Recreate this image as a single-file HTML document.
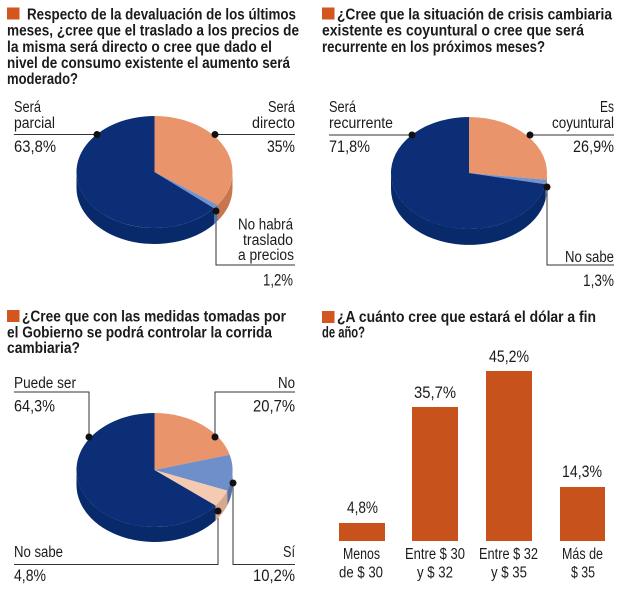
<!DOCTYPE html>
<html><head><meta charset="utf-8">
<style>
html,body{margin:0;padding:0;background:#fff;}
svg{display:block;}
text{font-family:"Liberation Sans",sans-serif;fill:#1b1b1b;}
.t{font-weight:bold;font-size:16px;}
.l{font-size:15.5px;}
.p{font-size:17px;}
</style></head>
<body>
<svg width="630" height="595" viewBox="0 0 630 595" xmlns="http://www.w3.org/2000/svg">
<rect width="630" height="595" fill="#fff"/>
<g stroke="#333" stroke-width="1" fill="none">
  <!-- panel 1 leaders -->
  <polyline points="14,134.5 97,134.5"/>
  <polyline points="215,134.5 295,134.5"/>
  <polyline points="216,211 216,265 295,265"/>
  <!-- panel 2 -->
  <polyline points="329,135 412,135"/>
  <polyline points="530,135 614,135"/>
  <polyline points="547,187 547,265 614,265"/>
  <!-- panel 3 -->
  <polyline points="14,392 89,392 89,437"/>
  <polyline points="295,392 215,392 215,437"/>
  <polyline points="14,564.5 218,564.5 218,511"/>
  <polyline points="233,483 233,564.5 295,564.5"/>
</g>

<!-- ===== Panel 1 ===== -->
<rect x="7" y="7.5" width="12.5" height="12" fill="#d2561e"/>
<text class="t" x="27" y="19.5" textLength="269" lengthAdjust="spacingAndGlyphs">Respecto de la devaluación de los últimos</text>
<text class="t" x="7" y="35.7" textLength="292" lengthAdjust="spacingAndGlyphs">meses, ¿cree que el traslado a los precios de</text>
<text class="t" x="7" y="52" textLength="265" lengthAdjust="spacingAndGlyphs">la misma será directo o cree que dado el</text>
<text class="t" x="7" y="68" textLength="283" lengthAdjust="spacingAndGlyphs">nivel de consumo existente el aumento será</text>
<text class="t" x="7" y="84" textLength="71" lengthAdjust="spacingAndGlyphs">moderado?</text>

<!-- pie 1 sides -->
<path d="M232.5,172 A78,56 0 0 1 217.6,204.9 L217.6,220.9 A78,56 0 0 0 232.5,188 Z" fill="#c8764e"/>
<path d="M217.6,204.9 A78,56 0 0 1 214,208.2 L214,224.2 A78,56 0 0 0 217.6,220.9 Z" fill="#5570a5"/>
<path d="M214,208.2 A78,56 0 0 1 76.5,172 L76.5,188 A78,56 0 0 0 214,224.2 Z" fill="#08296a"/>
<!-- pie 1 top -->
<path d="M154.5,172 L154.5,116 A78,56 0 0 1 217.6,204.9 Z" fill="#e9946a"/>
<path d="M154.5,172 L217.6,204.9 A78,56 0 0 1 214,208.2 Z" fill="#7393cc"/>
<path d="M154.5,172 L214,208.2 A78,56 0 1 1 154.5,116 Z" fill="#0b2e76"/>
<circle cx="97" cy="134.5" r="3.5" fill="#111"/>
<circle cx="215" cy="134.5" r="3.5" fill="#111"/>
<circle cx="216" cy="211" r="3.5" fill="#111"/>

<text class="l" x="14" y="112" textLength="27" lengthAdjust="spacingAndGlyphs">Será</text>
<text class="l" x="14" y="128" textLength="41" lengthAdjust="spacingAndGlyphs">parcial</text>
<text class="p" x="14" y="152" textLength="42" lengthAdjust="spacingAndGlyphs">63,8%</text>
<text class="l" x="268" y="112" textLength="27" lengthAdjust="spacingAndGlyphs">Será</text>
<text class="l" x="252" y="128" textLength="43" lengthAdjust="spacingAndGlyphs">directo</text>
<text class="p" x="267" y="152" textLength="28" lengthAdjust="spacingAndGlyphs">35%</text>
<text class="l" x="238" y="229.5" textLength="55" lengthAdjust="spacingAndGlyphs">No habrá</text>
<text class="l" x="243" y="245" textLength="50" lengthAdjust="spacingAndGlyphs">traslado</text>
<text class="l" x="238" y="260" textLength="56" lengthAdjust="spacingAndGlyphs">a precios</text>
<text class="p" x="263" y="285.5" textLength="30" lengthAdjust="spacingAndGlyphs">1,2%</text>

<!-- ===== Panel 2 ===== -->
<rect x="322" y="7.5" width="12.5" height="12" fill="#d2561e"/>
<text class="t" x="337" y="19.5" textLength="275" lengthAdjust="spacingAndGlyphs">¿Cree que la situación de crisis cambiaria</text>
<text class="t" x="322" y="35.7" textLength="262" lengthAdjust="spacingAndGlyphs">existente es coyuntural o cree que será</text>
<text class="t" x="322" y="52" textLength="223" lengthAdjust="spacingAndGlyphs">recurrente en los próximos meses?</text>

<path d="M547,173 A78,56 0 0 1 546.4,179.7 L546.4,195.7 A78,56 0 0 0 547,189 Z" fill="#c8764e"/>
<path d="M546.4,179.7 A78,56 0 0 1 545.4,184.2 L545.4,200.2 A78,56 0 0 0 546.4,195.7 Z" fill="#5570a5"/>
<path d="M545.4,184.2 A78,56 0 0 1 391,173 L391,189 A78,56 0 0 0 545.4,200.2 Z" fill="#08296a"/>
<path d="M469,173 L469,117 A78,56 0 0 1 546.4,179.7 Z" fill="#e9946a"/>
<path d="M469,173 L546.4,179.7 A78,56 0 0 1 545.4,184.2 Z" fill="#7393cc"/>
<path d="M469,173 L545.4,184.2 A78,56 0 1 1 469,117 Z" fill="#0b2e76"/>
<circle cx="412" cy="135" r="3.5" fill="#111"/>
<circle cx="530" cy="135" r="3.5" fill="#111"/>
<circle cx="547" cy="187" r="3.5" fill="#111"/>

<text class="l" x="329" y="112" textLength="27" lengthAdjust="spacingAndGlyphs">Será</text>
<text class="l" x="329" y="128" textLength="64" lengthAdjust="spacingAndGlyphs">recurrente</text>
<text class="p" x="329" y="152" textLength="41" lengthAdjust="spacingAndGlyphs">71,8%</text>
<text class="l" x="600" y="112" textLength="14" lengthAdjust="spacingAndGlyphs">Es</text>
<text class="l" x="552" y="128" textLength="62" lengthAdjust="spacingAndGlyphs">coyuntural</text>
<text class="p" x="573" y="152" textLength="41" lengthAdjust="spacingAndGlyphs">26,9%</text>
<text class="l" x="565" y="262" textLength="49" lengthAdjust="spacingAndGlyphs">No sabe</text>
<text class="p" x="583" y="286" textLength="31" lengthAdjust="spacingAndGlyphs">1,3%</text>

<!-- ===== Panel 3 ===== -->
<rect x="7" y="310" width="12.5" height="12" fill="#d2561e"/>
<text class="t" x="22" y="321.7" textLength="264" lengthAdjust="spacingAndGlyphs">¿Cree que con las medidas tomadas por</text>
<text class="t" x="7" y="337.5" textLength="265" lengthAdjust="spacingAndGlyphs">el Gobierno se podrá controlar la corrida</text>
<text class="t" x="7" y="353" textLength="73" lengthAdjust="spacingAndGlyphs">cambiaria?</text>

<path d="M232.5,470 A78,57 0 0 1 227.2,490.6 L227.2,505.6 A78,57 0 0 0 232.5,485 Z" fill="#5570a5"/>
<path d="M227.2,490.6 A78,57 0 0 1 215.5,505.5 L215.5,520.5 A78,57 0 0 0 227.2,505.6 Z" fill="#d8a88e"/>
<path d="M215.5,505.5 A78,57 0 0 1 76.5,470 L76.5,485 A78,57 0 0 0 215.5,520.5 Z" fill="#08296a"/>
<path d="M154.5,470 L154.5,413 A78,57 0 0 1 229.7,454.8 Z" fill="#e9946a"/>
<path d="M154.5,470 L229.7,454.8 A78,57 0 0 1 227.2,490.6 Z" fill="#6f8fca"/>
<path d="M154.5,470 L227.2,490.6 A78,57 0 0 1 215.5,505.5 Z" fill="#f4cbb2"/>
<path d="M154.5,470 L215.5,505.5 A78,57 0 1 1 154.5,413 Z" fill="#0b2e76"/>
<circle cx="89" cy="437" r="3.5" fill="#111"/>
<circle cx="215" cy="437" r="3.5" fill="#111"/>
<circle cx="233" cy="483" r="3.5" fill="#111"/>
<circle cx="218" cy="511" r="3.5" fill="#111"/>

<text class="l" x="14" y="388" textLength="62" lengthAdjust="spacingAndGlyphs">Puede ser</text>
<text class="p" x="14" y="411.5" textLength="41" lengthAdjust="spacingAndGlyphs">64,3%</text>
<text class="l" x="278" y="388" textLength="17" lengthAdjust="spacingAndGlyphs">No</text>
<text class="p" x="253" y="411.5" textLength="42" lengthAdjust="spacingAndGlyphs">20,7%</text>
<text class="l" x="14" y="557" textLength="49" lengthAdjust="spacingAndGlyphs">No sabe</text>
<text class="p" x="14" y="581" textLength="32" lengthAdjust="spacingAndGlyphs">4,8%</text>
<text class="l" x="283" y="557" textLength="12" lengthAdjust="spacingAndGlyphs">Sí</text>
<text class="p" x="253" y="581" textLength="42" lengthAdjust="spacingAndGlyphs">10,2%</text>

<!-- ===== Panel 4 ===== -->
<rect x="322" y="311" width="12.5" height="12" fill="#d2561e"/>
<text class="t" x="337" y="322" textLength="259" lengthAdjust="spacingAndGlyphs">¿A cuánto cree que estará el dólar a fin</text>
<text class="t" x="322" y="337.5" textLength="43" lengthAdjust="spacingAndGlyphs">de año?</text>

<g fill="#c8521c">
  <rect x="339" y="523" width="46" height="18"/>
  <rect x="412" y="407" width="46" height="134"/>
  <rect x="486" y="371" width="46" height="170"/>
  <rect x="560" y="487" width="45" height="54"/>
</g>
<text class="p" x="347" y="513" textLength="31" lengthAdjust="spacingAndGlyphs">4,8%</text>
<text class="p" x="414" y="398" textLength="42" lengthAdjust="spacingAndGlyphs">35,7%</text>
<text class="p" x="489" y="362" textLength="40" lengthAdjust="spacingAndGlyphs">45,2%</text>
<text class="p" x="562" y="477" textLength="40" lengthAdjust="spacingAndGlyphs">14,3%</text>

<text class="l" x="343" y="559" textLength="37" lengthAdjust="spacingAndGlyphs">Menos</text>
<text class="l" x="339" y="577.5" textLength="44" lengthAdjust="spacingAndGlyphs">de $ 30</text>
<text class="l" x="405" y="559" textLength="60" lengthAdjust="spacingAndGlyphs">Entre $ 30</text>
<text class="l" x="417" y="577.5" textLength="36" lengthAdjust="spacingAndGlyphs">y $ 32</text>
<text class="l" x="479" y="559" textLength="59" lengthAdjust="spacingAndGlyphs">Entre $ 32</text>
<text class="l" x="491" y="577.5" textLength="36" lengthAdjust="spacingAndGlyphs">y $ 35</text>
<text class="l" x="562" y="559" textLength="41" lengthAdjust="spacingAndGlyphs">Más de</text>
<text class="l" x="571" y="577.5" textLength="24" lengthAdjust="spacingAndGlyphs">$ 35</text>
</svg>
</body></html>
